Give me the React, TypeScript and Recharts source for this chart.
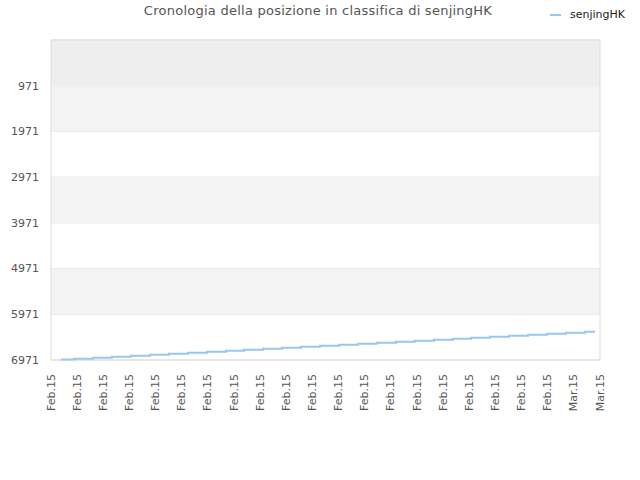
import React from 'react';
import {
  LineChart,
  Line,
  XAxis,
  YAxis,
  CartesianGrid,
  ReferenceArea,
} from 'recharts';

const title = 'Cronologia della posizione in classifica di senjingHK';
const seriesName = 'senjingHK';

// tick labels along the bottom, one per unit of the x scale
const xLabels = [
  'Feb.15', 'Feb.15', 'Feb.15', 'Feb.15', 'Feb.15', 'Feb.15', 'Feb.15', 'Feb.15',
  'Feb.15', 'Feb.15', 'Feb.15', 'Feb.15', 'Feb.15', 'Feb.15', 'Feb.15', 'Feb.15',
  'Feb.15', 'Feb.15', 'Feb.15', 'Feb.15', 'Mar.15', 'Mar.15',
];
const yTicks = [971, 1971, 2971, 3971, 4971, 5971, 6971];

// time of each rank change (in tick units) and the rank held from then on
const times = [
  0.38, 0.88, 1.61, 2.33, 3.06, 3.79, 4.51, 5.24, 5.97, 6.69, 7.38, 8.11, 8.84, 9.56, 10.29,
  11.02, 11.74, 12.47, 13.2, 13.92, 14.65, 15.38, 16.07, 16.79, 17.52, 18.25, 18.97, 19.7,
  20.43, 20.81,
];
const ranks = [
  6960, 6943, 6921, 6899, 6877, 6855, 6834, 6812, 6790, 6768, 6746, 6724, 6703, 6681, 6659,
  6637, 6615, 6593, 6572, 6550, 6528, 6506, 6484, 6462, 6441, 6419, 6397, 6375, 6353, 6353,
];

const data = times.map((t, i) => ({ t, rank: ranks[i] }));

const font = '"DejaVu Sans", sans-serif';
const lineColor = '#99c6f2';

const XTick = ({ x, y, payload }: any) => (
  <g transform={`translate(${x},${y + 6})`}>
    <text
      transform="rotate(-90)"
      textAnchor="end"
      dominantBaseline="central"
      fontSize={11}
      fontFamily={font}
      fill="#555"
    >
      {xLabels[payload.value]}
    </text>
  </g>
);

export default function App() {
  return (
    <div style={{ position: 'absolute', left: 0, top: 0, width: 640, height: 480, background: '#fff' }}>
      <div
        style={{
          position: 'absolute',
          left: 0,
          top: 3,
          width: 636,
          textAlign: 'center',
          fontFamily: font,
          fontSize: 13,
          letterSpacing: 0.25,
          color: '#555',
        }}
      >
        {title}
      </div>
      <div
        style={{
          position: 'absolute',
          left: 550,
          top: 8,
          display: 'flex',
          alignItems: 'center',
          fontFamily: font,
          fontSize: 11,
          color: '#222',
        }}
      >
        <svg width={20} height={10}>
          <line x1={0} y1={5} x2={11} y2={5} stroke={lineColor} strokeWidth={2} />
        </svg>
        <span>{seriesName}</span>
      </div>
      <LineChart
        width={640}
        height={480}
        data={data}
        margin={{ top: 40, right: 40, bottom: 70, left: 6 }}
      >
        <ReferenceArea y1={-29} y2={971} fill="#eeeeee" fillOpacity={1} stroke="none" />
        <ReferenceArea y1={971} y2={1971} fill="#f3f3f3" fillOpacity={1} stroke="none" />
        <ReferenceArea y1={2971} y2={3971} fill="#f3f3f3" fillOpacity={1} stroke="none" />
        <ReferenceArea y1={4971} y2={5971} fill="#f3f3f3" fillOpacity={1} stroke="none" />
        <CartesianGrid vertical={false} stroke="#e2e2e2" />
        <ReferenceArea
          x1={0}
          x2={21}
          y1={-29}
          y2={6971}
          fill="none"
          stroke="#dcdcdc"
          strokeWidth={1}
        />
        <XAxis
          dataKey="t"
          type="number"
          domain={[0, 21]}
          ticks={xLabels.map((_, i) => i)}
          interval={0}
          tick={<XTick />}
          tickLine={false}
          axisLine={false}
          height={50}
        />
        <YAxis
          type="number"
          reversed
          domain={[-29, 6971]}
          ticks={yTicks}
          interval={0}
          width={45}
          tickLine={false}
          axisLine={false}
          tickSize={6}
          tickMargin={6}
          tick={{ fontSize: 11, fontFamily: font, fill: '#555' }}
        />
        <Line
          type="stepAfter"
          dataKey="rank"
          stroke={lineColor}
          strokeWidth={2}
          dot={false}
          isAnimationActive={false}
        />
      </LineChart>
    </div>
  );
}
